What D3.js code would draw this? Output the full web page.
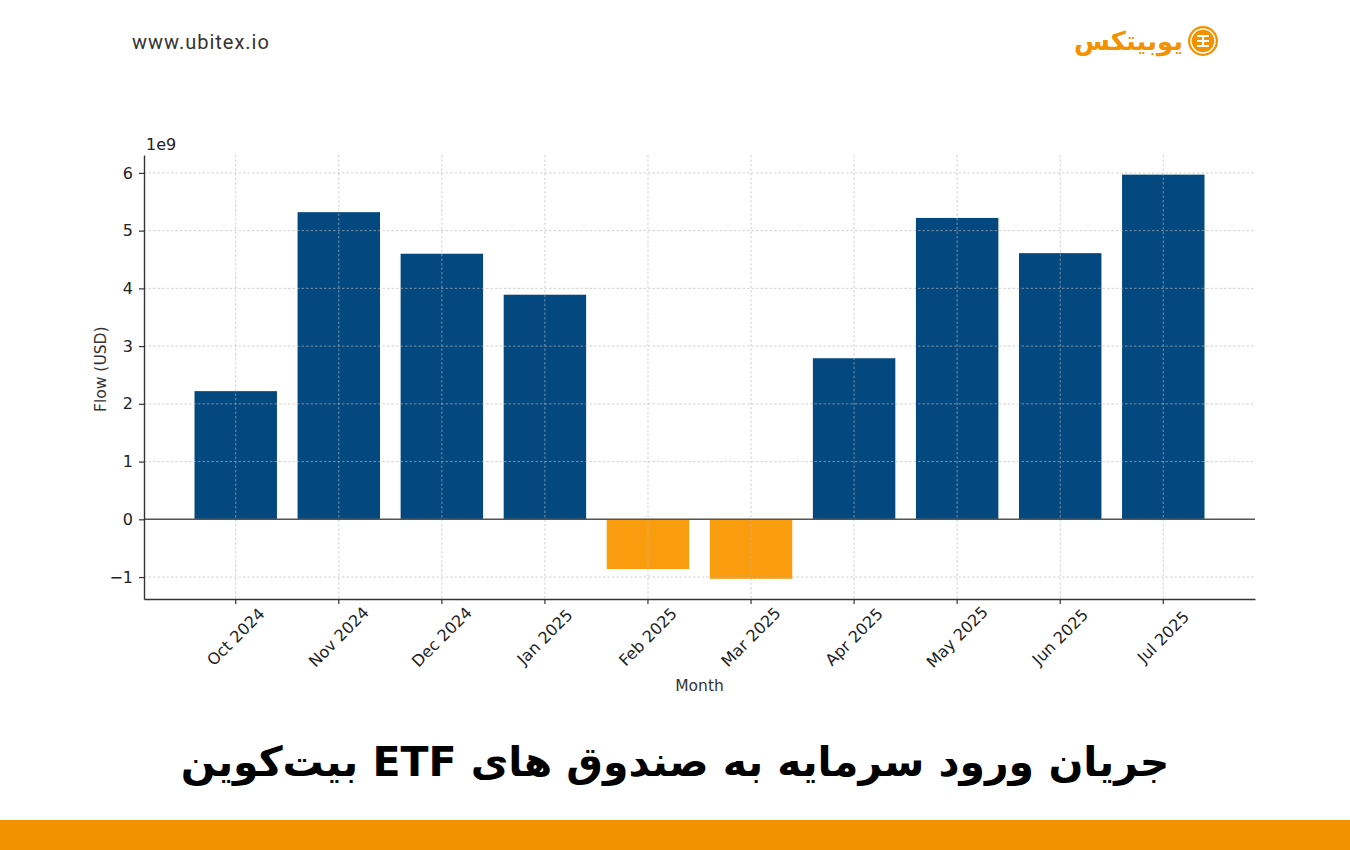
<!DOCTYPE html>
<html>
<head>
<meta charset="utf-8">
<script src="https://cdn.jsdelivr.net/npm/d3@7"></script>
<style>
  body { margin: 0; background: #fff; }
  svg { display: block; }
</style>
</head>
<body>
<svg id="chart" width="1350" height="850"></svg>
<script>
// monthly net flow into bitcoin ETFs, in units of 1e9 USD
const months = ["Oct 2024", "Nov 2024", "Dec 2024", "Jan 2025", "Feb 2025",
                "Mar 2025", "Apr 2025", "May 2025", "Jun 2025", "Jul 2025"];
const flows = [2.22, 5.32, 4.60, 3.89, -0.86, -1.03, 2.79, 5.22, 4.61, 5.97];
const yTicks = [-1, 0, 1, 2, 3, 4, 5, 6];

const margin = {top: 155, right: 95, bottom: 251, left: 144};
const width = 1350 - margin.left - margin.right;
const height = 850 - margin.top - margin.bottom;

const svg = d3.select("#chart");
const font = "DejaVu Sans, sans-serif";

// header
svg.append("text")
    .attr("x", 132).attr("y", 49)
    .attr("font-family", "Roboto, sans-serif")
    .attr("font-size", 20)
    .attr("letter-spacing", 1)
    .attr("fill", "#333")
    .text("www.ubitex.io");

const logo = svg.append("g").attr("transform", "translate(1203,41)");
logo.append("circle").attr("r", 15).attr("fill", "#f39200");
logo.append("circle").attr("r", 12).attr("fill", "none").attr("stroke", "#fff").attr("stroke-width", 1.5);
logo.append("path")
    .attr("d", "M-6,-5 H6 M-6,0 H6 M-6,5 H6 M0,-5 V5")
    .attr("stroke", "#fff").attr("stroke-width", 2.2).attr("fill", "none");
svg.append("text")
    .attr("x", 1183).attr("y", 50)
    .attr("text-anchor", "start")
    .attr("direction", "rtl")
    .attr("font-family", font)
    .attr("font-weight", "bold")
    .attr("font-size", 26)
    .attr("fill", "#f39200")
    .text("یوبیتکس");

// chart
const g = svg.append("g").attr("transform", `translate(${margin.left},${margin.top})`);

const x = d3.scaleBand()
    .domain(months)
    .range([0, width])
    .paddingInner(0.2)
    .paddingOuter(0.49);

const y = d3.scaleLinear()
    .domain([-1.38, 6.31])
    .range([height, 0]);

const barColor = v => v >= 0 ? "#03497f" : "#f99d0f";

g.selectAll(".bar")
    .data(flows)
    .join("rect")
    .attr("class", "bar")
    .attr("x", (d, i) => x(months[i]))
    .attr("width", x.bandwidth())
    .attr("y", d => y(Math.max(0, d)))
    .attr("height", d => Math.abs(y(d) - y(0)))
    .attr("fill", d => barColor(d));

// grid, drawn over the bars like the original
const grid = g.append("g")
    .attr("stroke", "#b8b8b8")
    .attr("stroke-opacity", 0.7)
    .attr("stroke-width", 0.9)
    .attr("stroke-dasharray", "2.5,2");
grid.selectAll(".gx")
    .data(months)
    .join("line")
    .attr("x1", d => x(d) + x.bandwidth() / 2)
    .attr("x2", d => x(d) + x.bandwidth() / 2)
    .attr("y1", 0).attr("y2", height);
grid.selectAll(".gy")
    .data(yTicks)
    .join("line")
    .attr("x1", 0).attr("x2", width)
    .attr("y1", d => y(d)).attr("y2", d => y(d));

// zero line
g.append("line")
    .attr("x1", 0).attr("x2", width)
    .attr("y1", y(0)).attr("y2", y(0))
    .attr("stroke", "#555")
    .attr("stroke-width", 1.4);

// axes
const yAxis = g.append("g")
    .call(d3.axisLeft(y).tickValues(yTicks).tickSize(5).tickSizeOuter(0).tickPadding(6)
        .tickFormat(d => d < 0 ? "\u2212" + Math.abs(d) : d));
const xAxis = g.append("g")
    .attr("transform", `translate(0,${height})`)
    .call(d3.axisBottom(x).tickSize(5).tickSizeOuter(0).tickFormat(""));

[yAxis, xAxis].forEach(a => {
    a.select(".domain").attr("stroke", "#333").attr("stroke-width", 1.4);
    a.selectAll(".tick line").attr("stroke", "#333").attr("stroke-width", 1.2);
});
yAxis.selectAll(".tick text")
    .attr("font-family", font)
    .attr("font-size", 16)
    .attr("fill", "#222");

g.selectAll(".xlabel")
    .data(months)
    .join("text")
    .attr("class", "xlabel")
    .attr("transform", d => `translate(${x(d) + x.bandwidth() / 2},${height + 38}) rotate(-45)`)
    .attr("text-anchor", "middle")
    .attr("dominant-baseline", "central")
    .attr("font-family", font)
    .attr("font-size", 16)
    .attr("fill", "#222")
    .text(d => d);

g.append("text")
    .attr("x", 2).attr("y", -5)
    .attr("font-family", font)
    .attr("font-size", 16)
    .attr("fill", "#222")
    .text("1e9");

g.append("text")
    .attr("transform", `translate(-38,${y(2.6)}) rotate(-90)`)
    .attr("text-anchor", "middle")
    .attr("font-family", font)
    .attr("font-size", 15.5)
    .attr("fill", "#333")
    .text("Flow (USD)");

g.append("text")
    .attr("x", width / 2).attr("y", height + 92)
    .attr("text-anchor", "middle")
    .attr("font-family", font)
    .attr("font-size", 15.5)
    .attr("fill", "#333")
    .text("Month");

// title
svg.append("text")
    .attr("x", 675).attr("y", 776)
    .attr("text-anchor", "middle")
    .attr("direction", "rtl")
    .attr("font-family", font)
    .attr("font-weight", "bold")
    .attr("font-size", 41)
    .attr("fill", "#000")
    .text("جریان ورود سرمایه به صندوق های ETF بیت\u200cکوین");

// bottom band
svg.append("rect")
    .attr("x", 0).attr("y", 820)
    .attr("width", 1350).attr("height", 30)
    .attr("fill", "#f39200");
</script>
</body>
</html>
